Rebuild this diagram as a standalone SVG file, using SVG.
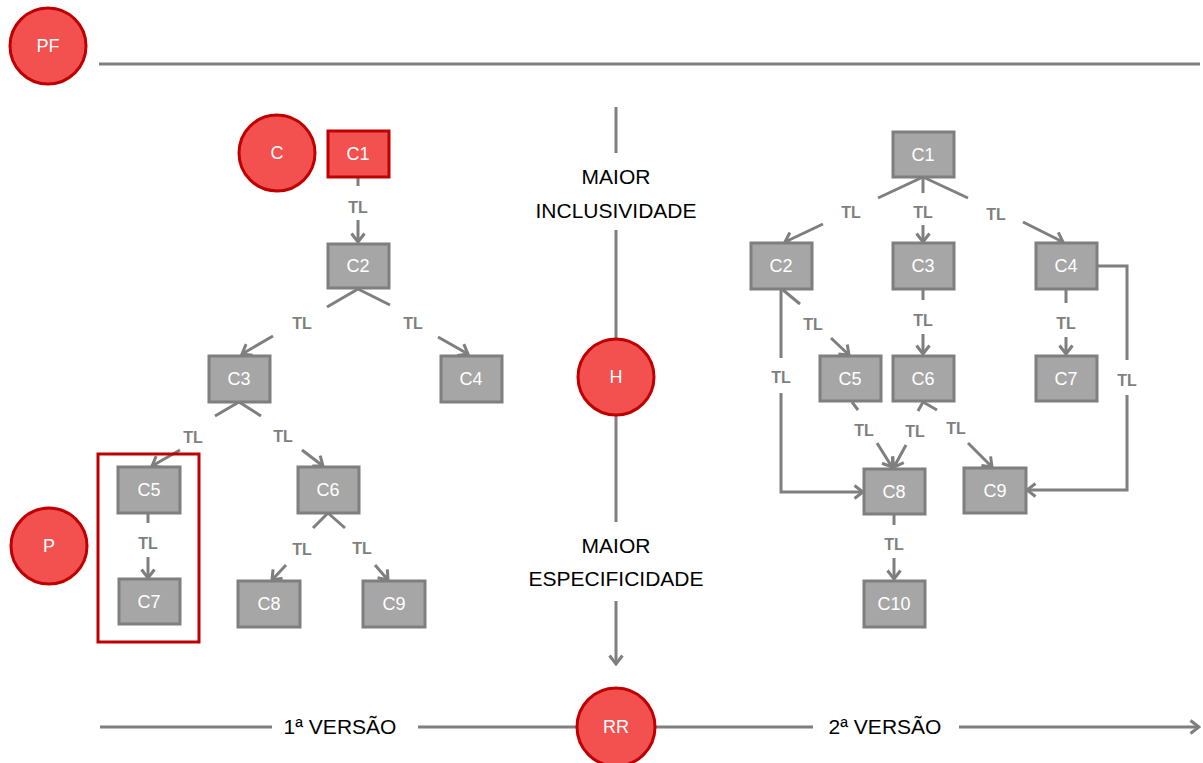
<svg xmlns="http://www.w3.org/2000/svg" width="1203" height="763" viewBox="0 0 1203 763">
<defs>
<marker id="arr" markerUnits="userSpaceOnUse" viewBox="0 0 12 16" markerWidth="12" markerHeight="16" refX="10" refY="8" orient="auto">
<path d="M1.5,1.5 L10,8 L1.5,14.5" fill="none" stroke="#7F7F7F" stroke-width="3"/>
</marker>
<style>
.bg{fill:#fff}
.red{fill:#F35050;stroke:#C00000;stroke-width:3}
.box{fill:#A6A6A6;stroke:#7F7F7F;stroke-width:3}
.ln{fill:none;stroke:#7F7F7F;stroke-width:3}
.ar{marker-end:url(#arr)}
.wl{font-family:"Liberation Sans",Arial,sans-serif;font-size:18px;fill:#fff;text-anchor:middle}
.tl{font-family:"Liberation Sans",Arial,sans-serif;font-size:16px;font-weight:bold;fill:#7F7F7F;text-anchor:middle}
.bk{font-family:"Liberation Sans",Arial,sans-serif;font-size:21px;fill:#000;text-anchor:middle}
</style>
</defs>
<rect class="bg" width="1203" height="763"/>

<g id="connectors">
<line class="ln" x1="99" y1="64" x2="1200" y2="64"/>
<line class="ln" x1="616" y1="107" x2="616" y2="153"/>
<line class="ln" x1="616" y1="230" x2="616" y2="338"/>
<line class="ln" x1="616" y1="416" x2="616" y2="522"/>
<line class="ln ar" x1="616" y1="601" x2="616" y2="664"/>
<line class="ln" x1="100" y1="727" x2="272" y2="727"/>
<line class="ln" x1="418" y1="727" x2="577" y2="727"/>
<line class="ln" x1="656" y1="727" x2="813" y2="727"/>
<line class="ln ar" x1="959" y1="727" x2="1199" y2="727"/>

<line class="ln" x1="358" y1="177" x2="358" y2="186"/>
<line class="ln ar" x1="358" y1="220" x2="358" y2="242"/>
<line class="ln" x1="358" y1="289" x2="327" y2="307"/>
<line class="ln ar" x1="273" y1="336" x2="242" y2="354"/>
<line class="ln" x1="358" y1="289" x2="390" y2="305"/>
<line class="ln ar" x1="438" y1="337" x2="468" y2="354"/>
<line class="ln" x1="239" y1="402" x2="215" y2="416"/>
<line class="ln ar" x1="180" y1="450" x2="152" y2="466"/>
<line class="ln" x1="239" y1="402" x2="261" y2="416"/>
<line class="ln ar" x1="302" y1="450" x2="323" y2="466"/>
<line class="ln" x1="148" y1="513" x2="148" y2="523"/>
<line class="ln ar" x1="148" y1="557" x2="148" y2="578"/>
<line class="ln" x1="328" y1="513" x2="313" y2="528"/>
<line class="ln ar" x1="286" y1="565" x2="272" y2="580"/>
<line class="ln" x1="328" y1="513" x2="345" y2="528"/>
<line class="ln ar" x1="375" y1="565" x2="388" y2="580"/>

<line class="ln" x1="923" y1="177" x2="878" y2="198"/>
<line class="ln ar" x1="823" y1="224" x2="785" y2="242"/>
<line class="ln" x1="923" y1="177" x2="923" y2="193"/>
<line class="ln ar" x1="923" y1="225" x2="923" y2="242"/>
<line class="ln" x1="923" y1="177" x2="968" y2="198"/>
<line class="ln ar" x1="1023" y1="222" x2="1063" y2="242"/>
<line class="ln" x1="923" y1="289" x2="923" y2="300"/>
<line class="ln ar" x1="923" y1="334" x2="923" y2="354"/>
<line class="ln" x1="1066" y1="289" x2="1066" y2="303"/>
<line class="ln ar" x1="1066" y1="337" x2="1066" y2="354"/>
<polyline class="ln" points="1097,266 1127,266 1127,360"/>
<polyline class="ln ar" points="1127,395 1127,490 1027,490"/>
<line class="ln" x1="783" y1="290" x2="800" y2="304"/>
<line class="ln ar" x1="831" y1="338" x2="849" y2="355"/>
<line class="ln" x1="781" y1="290" x2="781" y2="358"/>
<polyline class="ln ar" points="781,393 781,492 863,492"/>
<line class="ln" x1="852" y1="402" x2="858" y2="410"/>
<line class="ln ar" x1="877" y1="443" x2="892" y2="467"/>
<line class="ln" x1="923" y1="402" x2="918" y2="411"/>
<line class="ln ar" x1="906" y1="445" x2="894" y2="467"/>
<line class="ln" x1="923" y1="402" x2="937" y2="410"/>
<line class="ln ar" x1="968" y1="443" x2="992" y2="467"/>
<line class="ln" x1="894" y1="514" x2="894" y2="525"/>
<line class="ln ar" x1="894" y1="558" x2="894" y2="579"/>

<g class="tl">
<text x="358" y="213">TL</text>
<text x="302" y="329">TL</text>
<text x="413" y="329">TL</text>
<text x="193" y="443">TL</text>
<text x="283" y="442">TL</text>
<text x="148" y="549">TL</text>
<text x="302" y="555">TL</text>
<text x="362" y="554">TL</text>
<text x="851" y="218">TL</text>
<text x="923" y="218">TL</text>
<text x="996" y="220">TL</text>
<text x="813" y="330">TL</text>
<text x="781" y="383">TL</text>
<text x="923" y="326">TL</text>
<text x="1066" y="329">TL</text>
<text x="1127" y="386">TL</text>
<text x="864" y="436">TL</text>
<text x="915" y="437">TL</text>
<text x="956" y="434">TL</text>
<text x="894" y="550">TL</text>
</g>
</g>

<g class="bk">
<text x="616" y="184">MAIOR</text>
<text x="616" y="218">INCLUSIVIDADE</text>
<text x="616" y="553">MAIOR</text>
<text x="616" y="586">ESPECIFICIDADE</text>
<text x="340" y="734">1ª VERSÃO</text>
<text x="885" y="734">2ª VERSÃO</text>
</g>

<g id="PF"><circle class="red" cx="48" cy="46" r="38"/><text class="wl" x="48" y="52">PF</text></g>
<g id="C"><circle class="red" cx="277" cy="153" r="38"/><text class="wl" x="277" y="159">C</text></g>
<g id="P"><circle class="red" cx="49" cy="546" r="38"/><text class="wl" x="49" y="552">P</text></g>
<g id="H"><circle class="red" cx="616" cy="377" r="38"/><text class="wl" x="616" y="383">H</text></g>
<g id="RR"><circle class="red" cx="616" cy="727" r="39"/><text class="wl" x="616" y="733">RR</text></g>

<g id="P-frame"><rect x="98" y="454" width="101" height="188" fill="none" stroke="#C00000" stroke-width="3"/></g>

<g id="L-C1"><rect class="red" x="328" y="131" width="61" height="46"/><text class="wl" x="358" y="160">C1</text></g>
<g id="L-C2"><rect class="box" x="328" y="244" width="61" height="44"/><text class="wl" x="358" y="272">C2</text></g>
<g id="L-C3"><rect class="box" x="209" y="356" width="61" height="46"/><text class="wl" x="239" y="385">C3</text></g>
<g id="L-C4"><rect class="box" x="441" y="356" width="61" height="46"/><text class="wl" x="471" y="385">C4</text></g>
<g id="L-C5"><rect class="box" x="118" y="467" width="62" height="46"/><text class="wl" x="149" y="496">C5</text></g>
<g id="L-C6"><rect class="box" x="298" y="467" width="61" height="46"/><text class="wl" x="328" y="496">C6</text></g>
<g id="L-C7"><rect class="box" x="119" y="579" width="61" height="45"/><text class="wl" x="149" y="608">C7</text></g>
<g id="L-C8"><rect class="box" x="238" y="581" width="62" height="46"/><text class="wl" x="269" y="610">C8</text></g>
<g id="L-C9"><rect class="box" x="363" y="581" width="62" height="46"/><text class="wl" x="394" y="610">C9</text></g>

<g id="R-C1"><rect class="box" x="893" y="132" width="61" height="45"/><text class="wl" x="923" y="161">C1</text></g>
<g id="R-C2"><rect class="box" x="751" y="243" width="61" height="46"/><text class="wl" x="781" y="272">C2</text></g>
<g id="R-C3"><rect class="box" x="893" y="243" width="61" height="46"/><text class="wl" x="923" y="272">C3</text></g>
<g id="R-C4"><rect class="box" x="1036" y="243" width="61" height="46"/><text class="wl" x="1066" y="272">C4</text></g>
<g id="R-C5"><rect class="box" x="820" y="356" width="61" height="45"/><text class="wl" x="850" y="385">C5</text></g>
<g id="R-C6"><rect class="box" x="893" y="356" width="61" height="45"/><text class="wl" x="923" y="385">C6</text></g>
<g id="R-C7"><rect class="box" x="1036" y="356" width="61" height="45"/><text class="wl" x="1066" y="385">C7</text></g>
<g id="R-C8"><rect class="box" x="864" y="469" width="61" height="45"/><text class="wl" x="894" y="498">C8</text></g>
<g id="R-C9"><rect class="box" x="964" y="468" width="62" height="45"/><text class="wl" x="995" y="497">C9</text></g>
<g id="R-C10"><rect class="box" x="864" y="581" width="61" height="46"/><text class="wl" x="894" y="610">C10</text></g>
</svg>
